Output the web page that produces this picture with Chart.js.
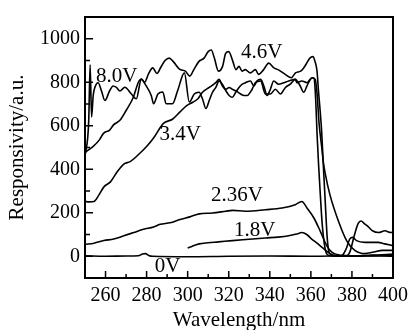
<!DOCTYPE html>
<html>
<head>
<meta charset="utf-8">
<script src="https://cdn.jsdelivr.net/npm/chart.js@4"></script>
<style>
  html, body { margin: 0; padding: 0; background: #fff; }
  #wrap { width: 414px; height: 330px; }
</style>
</head>
<body>
<div id="wrap"><canvas id="chart" width="414" height="330"></canvas></div>
<script>
// tick labels
const xTicks = [260, 280, 300, 320, 340, 360, 380, 400];
const yTicks = [0, 200, 400, 600, 800, 1000];

// 0V
const wl0 = [250, 260, 270, 276, 278, 279.5, 281, 283, 300, 320, 340, 360, 380, 400];
const r0 = [2, 0, 1, 2, 10, 12, 4, 0, -2, 0, 1, 0, 2, 0];

// 1.8V
const wl18 = [300, 302, 305.6, 310, 315, 321.8, 330, 337.9, 344, 349.2, 353, 355.6, 358, 360.4, 363, 365.3, 369.4, 372, 380, 390, 400];
const r18 = [38, 45, 57, 62, 66, 72, 78, 84, 88, 94, 102, 109, 100, 79, 60, 42, 12, 3, 0, 3, 5];

// 2.36V
const wl236 = [250, 254.4, 259.2, 264, 268.9, 273.7, 278.5, 283.4, 286.6, 291.4, 296.3, 301.1, 305.6, 312, 318.5, 321.8, 328.2, 337.9, 346, 352.4, 355.6, 358.1, 361.4, 364.5, 367.7, 370.2, 375, 380, 390, 400];
const r236 = [55, 60, 72, 79, 94, 109, 124, 135, 147, 154, 169, 181, 195, 199, 207, 211, 207, 214, 222, 237, 252, 222, 177, 117, 49, 19, 4, 2, 5, 10];

// 3.4V
const wl34 = [250, 252, 254.4, 256.8, 259.2, 262.4, 265.6, 268.9, 272, 275.3, 280.1, 283.4, 288.2, 292.6, 296.3, 299.5, 302.7, 305, 307.2, 310.5, 313.7, 315.3, 316.9, 318.6, 320.2, 321.7, 323.4, 325.8, 327.4, 329, 331.4, 333, 335.5, 337.9, 340.3, 342.7, 345.2, 347.6, 350, 352.4, 353.2, 355.6, 358.1, 360.5, 362.1, 363, 364, 365.3, 366.1, 367, 369.3, 373.4, 377.4, 381.4, 386.3, 390, 395, 400];
const r34 = [252, 250, 252, 282, 319, 342, 387, 424, 435, 461, 506, 544, 611, 630, 664, 693, 709, 724, 754, 776, 798, 813, 783, 768, 776, 768, 761, 746, 739, 739, 768, 798, 806, 746, 746, 768, 746, 776, 791, 813, 798, 806, 798, 821, 813, 750, 611, 500, 431, 380, 282, 162, 72, 27, 12, 18, 27, 27];

// 4.6V
const wl46 = [250, 251, 254, 257, 259, 262, 264, 267, 270, 273.5, 276, 277.5, 279, 281, 283, 285, 287, 289, 291, 293, 296, 299, 301, 303, 305.5, 308, 310, 311.5, 313, 315, 317, 318.5, 320, 322, 323.5, 325, 326.5, 328, 330.5, 333, 334.5, 337, 339.5, 342, 344, 347.5, 350.5, 352.5, 355, 356.5, 358, 359.5, 361, 362, 363, 363.7, 364.5, 365.3, 366, 367, 368, 369, 371, 374, 377, 379, 381, 383, 384.5, 386, 388, 390, 393, 396, 399, 400];
const r46 = [476, 484, 505, 535, 565, 580, 605, 625, 670, 730, 800, 815, 800, 840, 866, 840, 870, 900, 911, 895, 860, 850, 828, 858, 896, 911, 941, 948, 911, 851, 873, 933, 941, 896, 858, 873, 851, 858, 843, 858, 836, 858, 888, 866, 858, 836, 821, 843, 851, 866, 888, 911, 918, 896, 851, 761, 671, 566, 431, 250, 80, 15, 2, 0, 0, 20, 90, 150, 162, 150, 135, 117, 109, 117, 109, 110];

// 8.0V
const wl80 = [250, 251.8, 252.5, 253.2, 254, 254.8, 256.4, 258, 259.7, 262, 263.7, 265.3, 267, 269.4, 272.6, 275, 277.4, 279.8, 282.3, 283.4, 285.5, 287.9, 289.5, 292.6, 295.1, 298.4, 300.8, 303.2, 305.6, 307.2, 308.9, 310.5, 312.1, 313.7, 315.3, 316.9, 318.6, 320.2, 321.7, 323.4, 325, 326.6, 328.2, 330.6, 332.2, 333.8, 335.5, 337.1, 338.7, 340.3, 341.9, 344.3, 346.8, 349.2, 352.4, 354.8, 356.5, 358.1, 359.7, 361.3, 362, 362.5, 363, 363.7, 364.5, 365.5, 366.5, 367.5, 369, 372, 375, 377, 379, 380.3, 382.2, 386.3, 392.7, 396, 400];
const r80 = [460, 620, 880, 640, 740, 776, 798, 761, 716, 761, 783, 776, 760, 777, 746, 724, 813, 783, 738, 701, 746, 755, 701, 701, 761, 843, 709, 746, 754, 724, 679, 716, 754, 776, 806, 791, 761, 739, 731, 754, 776, 791, 798, 806, 783, 806, 813, 783, 739, 768, 806, 791, 798, 806, 813, 783, 754, 783, 813, 821, 780, 686, 566, 431, 300, 150, 60, 15, 3, 0, 2, 30, 80, 87, 72, 64, 64, 57, 49];

const curveLabels = [
  { text: '4.6V', x: 336, y: 939 },
  { text: '8.0V', x: 265.5, y: 827 },
  { text: '3.4V', x: 296.4, y: 562 },
  { text: '2.36V', x: 324, y: 279 },
  { text: '1.8V', x: 332.7, y: 117 },
  { text: '0V', x: 290.2, y: -45 },
];

const serif = '"Liberation Serif", "Times New Roman", serif';

const toPoints = (xs, ys) => xs.map((x, i) => ({ x, y: ys[i] }));
const series = [
  ['0V', wl0, r0], ['1.8V', wl18, r18], ['2.36V', wl236, r236],
  ['3.4V', wl34, r34], ['4.6V', wl46, r46], ['8.0V', wl80, r80],
];

// box, inward ticks and curve labels
const framePlugin = {
  id: 'frame',
  afterDraw(chart) {
    const { ctx, chartArea: a, scales: { x, y } } = chart;
    ctx.save();
    ctx.strokeStyle = '#000';
    ctx.lineWidth = 2;
    ctx.strokeRect(a.left, a.top, a.right - a.left, a.bottom - a.top);

    ctx.lineWidth = 1.5;
    ctx.beginPath();
    for (let v = 250; v <= 400; v += 10) {
      const px = x.getPixelForValue(v);
      const len = xTicks.includes(v) ? 7 : 4;
      ctx.moveTo(px, a.bottom);
      ctx.lineTo(px, a.bottom - len);
    }
    for (let v = -100; v <= 1100; v += 100) {
      const py = y.getPixelForValue(v);
      const len = yTicks.includes(v) ? 8 : 5;
      ctx.moveTo(a.left, py);
      ctx.lineTo(a.left + len, py);
    }
    ctx.stroke();

    ctx.fillStyle = '#000';
    ctx.font = '21px ' + serif;
    ctx.textAlign = 'center';
    ctx.textBaseline = 'middle';
    curveLabels.forEach((l) => {
      ctx.fillText(l.text, x.getPixelForValue(l.x), y.getPixelForValue(l.y));
    });
    ctx.restore();
  },
};

new Chart(document.getElementById('chart'), {
  type: 'line',
  data: {
    datasets: series.map(([label, xs, ys]) => ({
      label,
      data: toPoints(xs, ys),
      borderColor: '#000',
      borderWidth: 1.6,
      pointRadius: 0,
      cubicInterpolationMode: 'monotone',
      fill: false,
    })),
  },
  options: {
    responsive: false,
    animation: false,
    layout: { padding: { top: 11, right: 19, left: 0, bottom: 0 } },
    plugins: { legend: { display: false }, tooltip: { enabled: false } },
    scales: {
      x: {
        type: 'linear',
        min: 250,
        max: 400,
        afterBuildTicks: (s) => { s.ticks = xTicks.map((v) => ({ value: v })); },
        afterFit: (s) => { s.height = 52; },
        grid: { display: false, drawTicks: false },
        border: { display: false },
        ticks: { color: '#000', font: { family: serif, size: 20 }, padding: 6, maxRotation: 0, autoSkip: false, callback: (v) => String(v) },
        title: { display: true, text: 'Wavelength/nm', color: '#000', font: { family: serif, size: 21 }, padding: { top: 0, bottom: -3 } },
      },
      y: {
        min: -100,
        max: 1100,
        afterBuildTicks: (s) => { s.ticks = yTicks.map((v) => ({ value: v })); },
        afterFit: (s) => { s.width = 85; },
        grid: { display: false, drawTicks: false },
        border: { display: false },
        ticks: { color: '#000', font: { family: serif, size: 20 }, padding: 5, callback: (v) => String(v) },
        title: { display: true, text: 'Responsivity/a.u.', color: '#000', font: { family: serif, size: 21 }, padding: { top: 5, bottom: 0 } },
      },
    },
  },
  plugins: [framePlugin],
});
</script>
</body>
</html>
